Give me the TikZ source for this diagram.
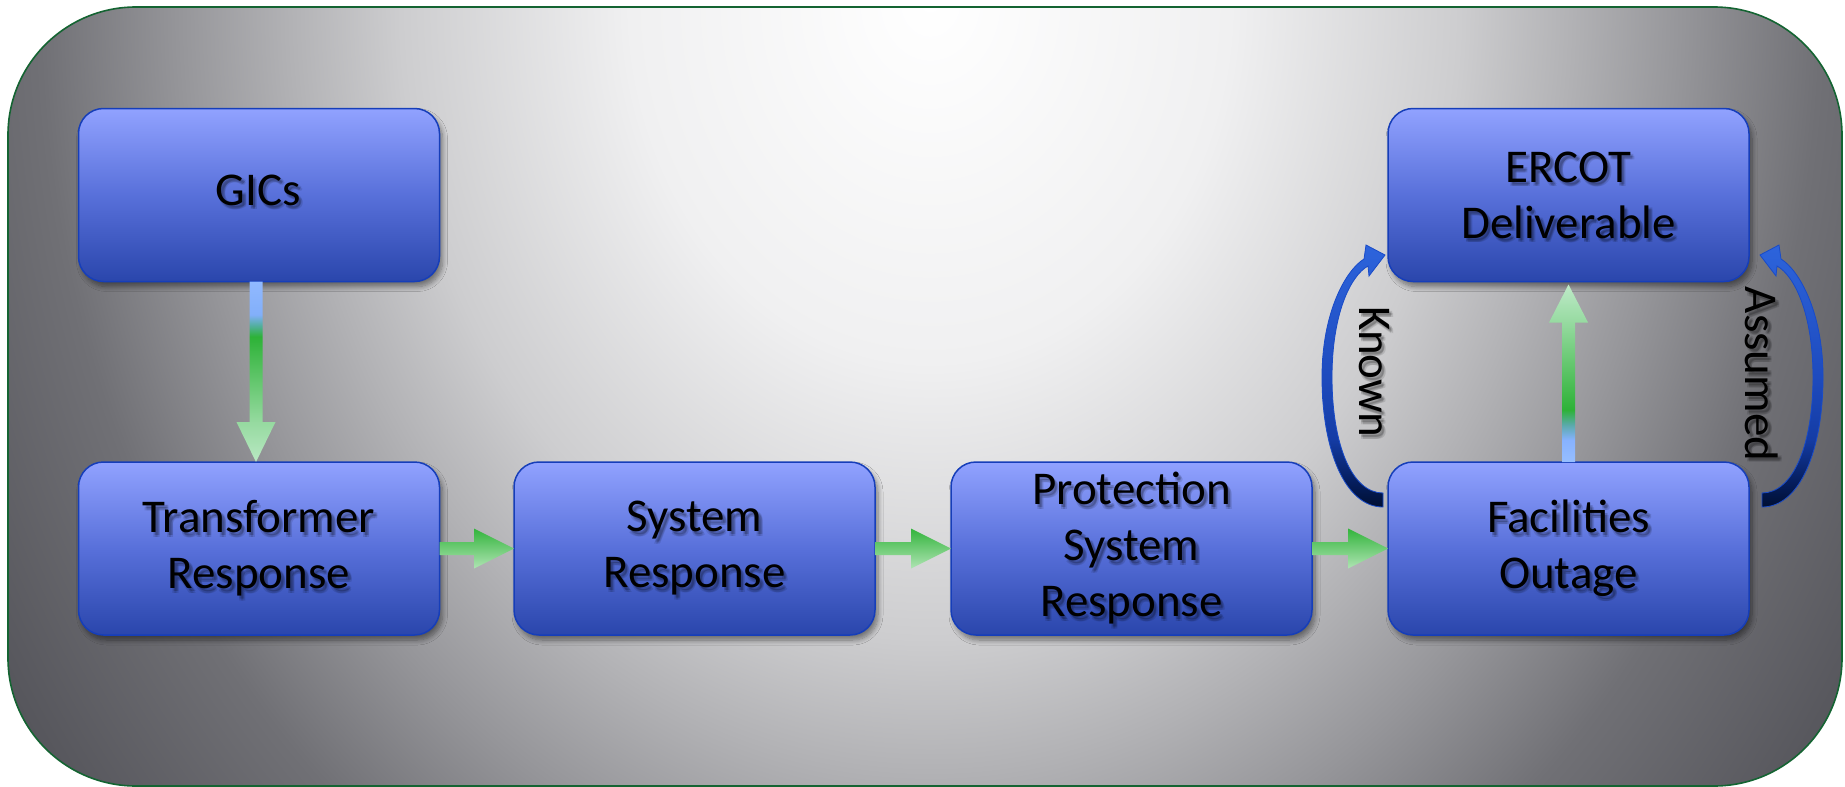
\documentclass[tikz,border=0pt]{standalone}
\usepackage{fontspec}
\setmainfont{Carlito}
\usetikzlibrary{calc,shadows.blur}

% panel and boxes
\definecolor{frameline}{RGB}{20,100,50}
\definecolor{boxtop}{RGB}{145,162,255}
\definecolor{boxmid}{RGB}{88,112,218}
\definecolor{boxbot}{RGB}{42,70,172}
\definecolor{boxline}{RGB}{22,62,185}
\definecolor{arrline}{RGB}{25,75,200}
% panel background stops
\definecolor{bg0}{RGB}{255,255,255}
\definecolor{bg1}{RGB}{240,240,241}
\definecolor{bg2}{RGB}{205,205,207}
\definecolor{bg3}{RGB}{178,178,181}
\definecolor{bg4}{RGB}{150,150,154}
\definecolor{bg5}{RGB}{112,112,117}
\definecolor{bg6}{RGB}{84,84,90}
\definecolor{bg7}{RGB}{75,75,82}
% straight flow arrows
\definecolor{hg0}{RGB}{50,180,60}
\definecolor{hg1}{RGB}{175,228,180}
\definecolor{dn0}{RGB}{185,232,195}
\definecolor{dn1}{RGB}{150,218,160}
\definecolor{dn2}{RGB}{45,178,55}
\definecolor{dn3}{RGB}{85,175,165}
\definecolor{dn4}{RGB}{130,175,250}
\definecolor{dn5}{RGB}{145,185,255}
\definecolor{up0}{RGB}{150,190,255}
\definecolor{up1}{RGB}{135,178,255}
\definecolor{up2}{RGB}{90,170,170}
\definecolor{up3}{RGB}{45,178,55}
\definecolor{up4}{RGB}{150,218,160}
\definecolor{up5}{RGB}{190,234,200}
% curved arrows
\definecolor{cv0}{RGB}{0,15,50}
\definecolor{cv1}{RGB}{5,30,95}
\definecolor{cv2}{RGB}{20,60,165}
\definecolor{cv3}{RGB}{30,75,190}
\definecolor{cv4}{RGB}{45,100,220}

\pgfdeclareradialshading{bgshade}{\pgfpointorigin}{color(0bp)=(bg0); color(5.77bp)=(bg1); color(10.19bp)=(bg2); color(12.31bp)=(bg3); color(14.42bp)=(bg4); color(17.12bp)=(bg5); color(21.15bp)=(bg6); color(25bp)=(bg7); color(50bp)=(bg7)}
\pgfdeclareverticalshading{downflow}{100bp}{color(0bp)=(dn0); color(25bp)=(dn0); color(36bp)=(dn1); color(59.7bp)=(dn2); color(63bp)=(dn3); color(65.8bp)=(dn4); color(75bp)=(dn5); color(100bp)=(dn5)}
\pgfdeclareverticalshading{upflow}{100bp}{color(0bp)=(up0); color(25bp)=(up0); color(31.2bp)=(up1); color(35.5bp)=(up2); color(39.7bp)=(up3); color(64.3bp)=(up4); color(75bp)=(up5); color(100bp)=(up5)}
\pgfdeclareverticalshading{curvedflow}{100bp}{color(0bp)=(cv0); color(25bp)=(cv0); color(30bp)=(cv1); color(38bp)=(cv2); color(50bp)=(cv3); color(75bp)=(cv4); color(100bp)=(cv4)}

% text with a soft offset shadow: [options]{name}{position}{text}
\newcommand\castlabel[4][]{%
  \node[boxtxt, txtshadow, #1] (#2-sa) at ($(#3)+(2.5,3)$)   {#4};
  \node[boxtxt, txtshadow, #1] (#2-sb) at ($(#3)+(4,4.5)$)   {#4};
  \node[boxtxt, txtshadow, #1] (#2-sc) at ($(#3)+(3.5,2.5)$) {#4};
  \node[boxtxt, txtshadow, #1] (#2-sd) at ($(#3)+(2,4.5)$)   {#4};
  \node[boxtxt, #1] (#2-txt) at (#3) {#4};}

% green block arrow from the right side of one box to the left side of the next
\newcommand\flowright[2]{%
  \shade[top color=hg0, bottom color=hg1]
    ($(#1.east)+(0,-6.5)$) -- ($(#2.west)+(-40,-6.5)$) -- ($(#2.west)+(-40,-20)$)
    -- (#2.west) -- ($(#2.west)+(-40,20)$) -- ($(#2.west)+(-40,6.5)$)
    -- ($(#1.east)+(0,6.5)$) -- cycle;}

\begin{document}
\begin{tikzpicture}[x=1pt,y=-1pt,
  box/.style={rectangle, rounded corners=25pt, minimum width=361pt, minimum height=173pt,
    inner sep=0pt, outer sep=0pt, draw=boxline, line width=1.5pt,
    top color=boxtop, bottom color=boxbot, middle color=boxmid,
    blur shadow={shadow xshift=3pt, shadow yshift=-5pt, shadow opacity=45, shadow blur steps=8, shadow blur radius=5pt}},
  boxtxt/.style={align=center, inner sep=0pt, outer sep=0pt, text=black,
    font=\fontsize{47}{56}\selectfont},
  txtshadow/.style={text opacity=0.11}]

\useasboundingbox (0,0) rectangle (1845,787);
\fill[white] (0,0) rectangle (1845,787);

% shaded panel
\begin{scope}
  \clip[rounded corners=128pt] (8,7) rectangle (1842,786);
  \shade[shading=bgshade] (930,0) ellipse [x radius=1300pt, y radius=1566pt];
\end{scope}
\draw[frameline, line width=1.6pt, rounded corners=128pt] (8,7) rectangle (1842,786);

% process boxes
\node[box] (gic)  at (259,195)    {};
\node[box] (tr)   at (259,548.5)  {};
\node[box] (sys)  at (694.5,548.5) {};
\node[box] (prot) at (1131.5,548.5) {};
\node[box] (fac)  at (1568.5,548.5) {};
\node[box] (erc)  at (1568.5,195) {};

\coordinate (gicT) at ($(gic)+(-1,-5)$);
\castlabel{gic}{gicT}{GICs}
\castlabel{tr}{tr}{Transformer\\Response}
\castlabel{sys}{sys}{System\\Response}
\castlabel{prot}{prot}{Protection\\System\\Response}
\castlabel{fac}{fac}{Facilities\\Outage}
\castlabel{erc}{erc}{ERCOT\\Deliverable}

% GICs -> Transformer Response
\coordinate (d0) at ($(gic.south)+(-3,0)$);
\coordinate (d1) at ($(tr.north)+(-3,0)$);
\shade[shading=downflow]
  ($(d0)+(-6.5,0)$) -- ($(d1)+(-6.5,-40)$) -- ($(d1)+(-19.5,-40)$) -- (d1)
  -- ($(d1)+(19.5,-40)$) -- ($(d1)+(6.5,-40)$) -- ($(d0)+(6.5,0)$) -- cycle;

% chain along the lower row
\flowright{tr}{sys}
\flowright{sys}{prot}
\flowright{prot}{fac}

% Facilities Outage -> ERCOT Deliverable
\coordinate (u0) at (fac.north);
\coordinate (u1) at ($(erc.south)+(0,3)$);
\shade[shading=upflow]
  ($(u0)+(-6.5,0)$) -- ($(u1)+(-6.5,38)$) -- ($(u1)+(-19.5,38)$) -- (u1)
  -- ($(u1)+(19.5,38)$) -- ($(u1)+(6.5,38)$) -- ($(u0)+(6.5,0)$) -- cycle;

% curved arrow on the left (Known)
\shade[shading=curvedflow, draw=arrline, line width=0.8pt]
  (1383,507) .. controls (1345,507) and (1322,450) .. (1322,377)
  .. controls (1322,312) and (1346,270) .. (1364,259)
  -- (1366,245) -- (1385,255) -- (1369,276) -- (1368,266)
  .. controls (1350,276) and (1332,315) .. (1332,377)
  .. controls (1332,445) and (1352,493) .. (1383,493) -- cycle;

% curved arrow on the right (Assumed)
\shade[shading=curvedflow, draw=arrline, line width=0.8pt]
  (1762,507) .. controls (1800,507) and (1823,450) .. (1823,377)
  .. controls (1823,312) and (1799,270) .. (1781,259)
  -- (1779,245) -- (1760,255) -- (1776,276) -- (1777,266)
  .. controls (1795,276) and (1813,315) .. (1813,377)
  .. controls (1813,445) and (1793,493) .. (1762,493) -- cycle;

\castlabel[rotate=-90]{known}{1374,372}{Known}
\castlabel[rotate=-90]{assumed}{1762,374}{Assumed}

\end{tikzpicture}
\end{document}
